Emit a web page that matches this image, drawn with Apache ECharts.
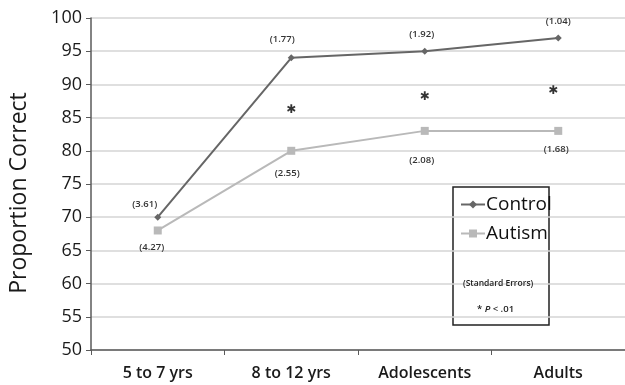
<!DOCTYPE html>
<html><head><meta charset="utf-8">
<script src="https://cdn.jsdelivr.net/npm/echarts@6/dist/echarts.min.js"></script>
<style>html,body{margin:0;padding:0;background:#fff}#c{width:625px;height:385px}</style>
</head><body><div id="c"></div>
<script>
const categories = ['5 to 7 yrs', '8 to 12 yrs', 'Adolescents', 'Adults'];
const controlValues = [70, 94, 95, 97];
const autismValues = [68, 80, 83, 83];
const controlSE = ['(3.61)', '(1.77)', '(1.92)', '(1.04)'];
const autismSE = ['(4.27)', '(2.55)', '(2.08)', '(1.68)'];
const sigCategories = ['8 to 12 yrs', 'Adolescents', 'Adults'];
const sigValues = [86.2, 88.1, 89];
const yTicks = [50, 55, 60, 65, 70, 75, 80, 85, 90, 95, 100];

// label placement (style only)
const controlLabelOffsets = [[-13, 4], [-9, -2], [-3, 0], [0, 0]];
const autismLabelOffsets = [[-6, 0], [-4, 5], [-3, 12], [-2, 1]];
const sigLabelOffsets = [[0, 0], [0, 0], [-5, 0]];

const font = '"Open Sans", "Liberation Sans", sans-serif';
const chart = echarts.init(document.getElementById('c'), null, {renderer: 'canvas'});
chart.setOption({
  animation: false,
  backgroundColor: '#fff',
  grid: {left: 88, top: 18, width: 543, height: 332},
  xAxis: {
    type: 'category', data: categories, boundaryGap: true,
    axisLine: {lineStyle: {color: '#5a5a5a', width: 1.5}},
    axisTick: {show: true, length: 5, lineStyle: {color: '#5a5a5a'}},
    axisLabel: {fontFamily: font, fontSize: 16, color: '#1a1a1a', fontWeight: 600, margin: 15}
  },
  yAxis: {
    type: 'value', min: 50, max: 100, interval: 5,
    name: 'Proportion Correct', nameLocation: 'middle', nameGap: 60,
    nameTextStyle: {fontFamily: font, fontSize: 23, color: '#1a1a1a', padding: [0, 0, 0, -18]},
    axisLine: {show: true, lineStyle: {color: '#5a5a5a', width: 1.5}},
    axisTick: {show: true, length: 5, lineStyle: {color: '#5a5a5a'}},
    axisLabel: {fontFamily: font, fontSize: 18, color: '#1a1a1a', margin: 9,
      formatter: v => yTicks.includes(v) ? String(v) : ''},
    splitLine: {lineStyle: {color: '#d4d4d4', width: 1.5}}
  },
  legend: {
    orient: 'vertical', left: 455, top: 190, itemGap: 10,
    itemWidth: 24, itemHeight: 10,
    textStyle: {fontFamily: font, fontSize: 19, color: '#111', padding: [0, 0, 0, -4]},
    data: ['Control', 'Autism']
  },
  graphic: [
    {type: 'rect', shape: {x: 453, y: 187, width: 96, height: 138},
      style: {fill: '#fff', stroke: '#222', lineWidth: 1.5}, z: 0},
    {type: 'text', left: 463, top: 279, z: 10,
      style: {text: '(Standard Errors)', fontFamily: font, fontSize: 8.5, fontWeight: 600, fill: '#222'}},
    {type: 'text', left: 477, top: 304, z: 10,
      style: {text: '{a|* }{b|P}{a| < .01}', fontFamily: font, fontSize: 9,
        rich: {a: {fontFamily: font, fontSize: 9.5, fontWeight: 600, fill: '#222'},
               b: {fontFamily: font, fontSize: 9.5, fontWeight: 600, fontStyle: 'italic', fill: '#222'}}}}
  ],
  series: [
    {
      name: 'Control', type: 'line', z: 5,
      data: controlValues.map((v, i) => ({value: v, label: {offset: controlLabelOffsets[i]}})),
      symbol: 'diamond', symbolSize: 7,
      lineStyle: {color: '#666', width: 2},
      itemStyle: {color: '#666'},
      label: {show: true, position: 'top', distance: 8,
        formatter: p => controlSE[p.dataIndex],
        fontFamily: font, fontSize: 9.5, fontWeight: 600, color: '#333'}
    },
    {
      name: 'Autism', type: 'line', z: 5,
      data: autismValues.map((v, i) => ({value: v, label: {offset: autismLabelOffsets[i]}})),
      symbol: 'rect', symbolSize: 8,
      lineStyle: {color: '#b9b9b9', width: 2},
      itemStyle: {color: '#b9b9b9'},
      label: {show: true, position: 'bottom', distance: 8,
        formatter: p => autismSE[p.dataIndex],
        fontFamily: font, fontSize: 9.5, fontWeight: 600, color: '#333'}
    },
    {
      name: 'sig', type: 'scatter', symbolSize: 0, z: 6, silent: true,
      data: sigCategories.map((c, i) => ({value: [c, sigValues[i]], label: {offset: sigLabelOffsets[i]}})),
      label: {show: true, position: 'inside', formatter: '\u2731',
        fontFamily: '"DejaVu Sans", sans-serif', fontSize: 12, fontWeight: 'bold', color: '#000'}
    }
  ]
});
</script></body></html>
